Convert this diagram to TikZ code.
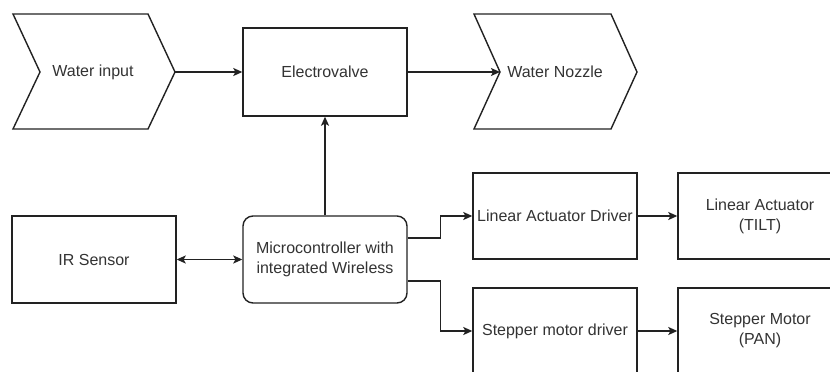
\documentclass[tikz,border=0pt]{standalone}
\usepackage{fontspec}
\setmainfont{Liberation Sans}
\usetikzlibrary{arrows.meta}
\definecolor{linec}{HTML}{222222}
\definecolor{textc}{HTML}{333333}
\begin{document}
\begin{tikzpicture}[x=1pt,y=-1pt,
  line width=1.4pt,
  every node/.style={font=\fontsize{16}{20}\selectfont, text=textc, align=center},
  box/.style={draw=linec, minimum width=164pt, minimum height=87pt, inner sep=0pt},
  rbox/.style={box, rounded corners=10pt},
  chev/.style={draw=linec, line join=miter},
  conn/.style={draw=linec, -{Stealth[length=9pt,width=8pt,inset=2pt]}},
  dconn/.style={draw=linec, {Stealth[length=9pt,width=8pt,inset=2pt]}-{Stealth[length=9pt,width=8pt,inset=2pt]}}
]
\useasboundingbox (0,0) rectangle (830,372);
\fill[white] (0,0) rectangle (830,372);
\clip (0,0) rectangle (830,372);

% chevrons
\draw[chev] (13,14) -- (148,14) -- (175,72) -- (148,129) -- (13,129) -- (40,72) -- cycle;
\node (win) at (93,72) {Water input};
\coordinate (winpt) at (175,72);

\draw[chev] (474,14) -- (611,14) -- (637,72) -- (611,129) -- (474,129) -- (500,72) -- cycle;
\node (noz) at (555,72) {Water Nozzle};
\coordinate (noznotch) at (500,72);

% boxes
\node[box, minimum height=88pt] (ev) at (325,72) {Electrovalve};
\node[box] (ir) at (94,259.5) {IR Sensor};
\node[rbox] (mc) at (325,259.5) {Microcontroller with\\integrated Wireless};
\node[box, minimum height=86pt] (lad) at (555,216) {Linear Actuator Driver};
\node[box, minimum height=86pt] (la) at (760,216) {Linear Actuator\\(TILT)};
\node[box, minimum height=86pt] (smd) at (555,331) {Stepper motor driver};
\node[box, minimum height=86pt] (sm) at (760,331) {Stepper Motor\\(PAN)};

% connectors
\draw[conn] (winpt) -- (ev.west);
\draw[conn] (ev.east) -- (noznotch);
\draw[conn] (mc.north) -- (ev.south);
\draw[dconn] (ir.east) -- (mc.west);
\draw[conn] ([yshift=21.5pt]mc.east) -- ++(33,0) |- (lad.west);
\draw[conn] ([yshift=-21.5pt]mc.east) -- ++(33,0) |- (smd.west);
\draw[conn] (lad.east) -- (la.west);
\draw[conn] (smd.east) -- (sm.west);
\end{tikzpicture}
\end{document}
